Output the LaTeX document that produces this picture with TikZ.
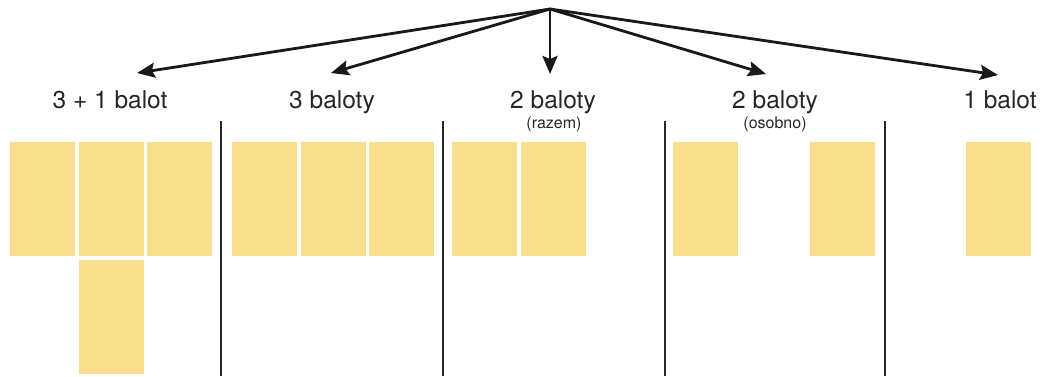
\documentclass[tikz,border=0pt]{standalone}
\usepackage{fontspec}
\setmainfont{TeX Gyre Heros}
\usepackage{tikz}
\usetikzlibrary{arrows.meta, positioning}
\definecolor{balotfill}{RGB}{248,222,141}
\definecolor{linegray}{RGB}{40,40,40}

\begin{document}
\begin{tikzpicture}[
    x=1pt, y=-1pt,
    balota/.style={draw=none, fill=balotfill, minimum width=65pt, minimum height=114pt, inner sep=0pt},
    title/.style={anchor=base, inner sep=0pt, font=\fontsize{24.5}{28}\selectfont, text=black!85},
    note/.style={anchor=base, inner sep=0pt, font=\fontsize{16}{19}\selectfont, text=black!85},
    divider/.style={linegray, line width=1.4pt},
    every edge/.style={draw, line width=2.8pt, black!90, -{Stealth[length=18pt, width=15pt, inset=3pt]}}
]
    \useasboundingbox (0,0) rectangle (1040,376);

    % Starting point and arrow tips
    \coordinate (top) at (550,9);
    \coordinate (t1) at (137,73);
    \coordinate (t2) at (331,73);
    \coordinate (t3) at (550,74);
    \coordinate (t4) at (766,74);
    \coordinate (t5) at (998,75);

    % Titles
    \node[title] (l1) at (110,108) {3 + 1 balot};
    \node[title] (l2) at (332,108) {3 baloty};
    \node[title] (l3) at (553,108) {2 baloty};
    \node[note]  (n3) at (554,128) {(razem)};
    \node[title] (l4) at (775,108) {2 baloty};
    \node[note]  (n4) at (775,128) {(osobno)};
    \node[title] (l5) at (1000,108) {1 balot};

    % Separators between groups
    \foreach \sx in {221,443,665,885}
        \draw[divider] (\sx,121) -- (\sx,376);

    % Ballots
    \node[balota] (b11) at (42.5,199) {};
    \node[balota] (b12) at (111.5,199) {};
    \node[balota] (b13) at (179.5,199) {};
    \node[balota] (b14) at (111.5,317) {};
    \node[balota] (b21) at (264.5,199) {};
    \node[balota] (b22) at (333.5,199) {};
    \node[balota] (b23) at (401.5,199) {};
    \node[balota] (b31) at (484.5,199) {};
    \node[balota] (b32) at (553.5,199) {};
    \node[balota] (b41) at (705.5,199) {};
    \node[balota] (b42) at (842.5,199) {};
    \node[balota] (b51) at (998.5,199) {};

    % Arrows
    \path
        (top) edge (t1)
        (top) edge (t2)
        (top) edge (t3)
        (top) edge (t4)
        (top) edge (t5);
\end{tikzpicture}
\end{document}
